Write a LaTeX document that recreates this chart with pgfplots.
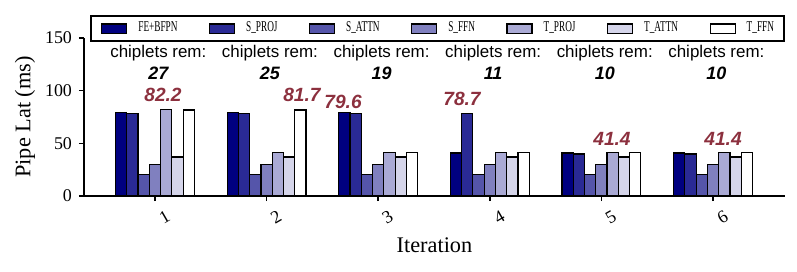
\documentclass[border=0pt]{standalone}
\usepackage{fontspec}
\setmainfont{Liberation Serif}
\newfontfamily\hv{Liberation Sans}
\usepackage{graphicx}
\usepackage{pgfplots}
\pgfplotsset{compat=1.18}
\usetikzlibrary{calc}
\definecolor{c1}{RGB}{0,0,128}
\definecolor{c2}{RGB}{42,42,149}
\definecolor{c3}{RGB}{85,85,170}
\definecolor{c4}{RGB}{128,128,191}
\definecolor{c5}{RGB}{170,170,213}
\definecolor{c6}{RGB}{213,213,234}
\definecolor{c7}{RGB}{255,255,255}
\definecolor{redlab}{RGB}{140,48,62}
\newcommand{\lgt}[1]{\scalebox{0.62}[1]{#1}}
\begin{document}
\begin{tikzpicture}
\begin{axis}[
  scale only axis,
  width=350.5bp, height=79bp,
  xmin=0.364, xmax=6.645,
  ymin=0, ymax=150,
  axis x line*=bottom, axis y line*=left,
  axis line style={-, line width=0.75pt},
  tick align=outside,
  major tick length=2.5bp,
  tick style={line width=0.75pt, black},
  xtick={1,2,3,4,5,6},
  ytick={0,50,100,150},
  /pgf/number format/assume math mode=true,
  ticklabel style={font=\fontsize{9}{10}\selectfont},
  xticklabel style={rotate=30, anchor=center, yshift=-9.5bp},
  ylabel={Pipe Lat (ms)},
  xlabel={Iteration},
  label style={font=\fontsize{11.2}{13}\selectfont},
  ylabel style={at={(axis description cs:-0.0842,0.5)}, anchor=center},
  xlabel style={at={(axis description cs:0.5,-0.313)}, anchor=center},
  ybar=0pt, bar width=0.101,
  clip=false,
  legend columns=7,
  legend image code/.code={\draw[#1, line width=0.6pt] (0bp,-2.3bp) rectangle (12.5bp,2.3bp);},
  legend style={at={(rel axis cs:1,0.975)}, anchor=south east,
    font=\fontsize{7.5}{8}\selectfont, draw=black, line width=1pt,
    inner xsep=5bp, inner ysep=3bp,
    nodes={inner sep=0pt},
    /tikz/every odd column/.append style={column sep=5.5bp},
    /tikz/every even column/.append style={column sep=15.7bp}},
]
\addplot[fill=c1, draw=black, line width=0.6pt] coordinates {(1,79.6) (2,79.6) (3,79.6) (4,40.8) (5,40.8) (6,40.8)};
\addlegendentry{\lgt{FE+BFPN}}
\addplot[fill=c2, draw=black, line width=0.6pt] coordinates {(1,78.7) (2,78.7) (3,78.7) (4,78.7) (5,39.9) (6,39.9)};
\addlegendentry{\lgt{S\_PROJ}}
\addplot[fill=c3, draw=black, line width=0.6pt] coordinates {(1,20.5) (2,20.5) (3,20.5) (4,20.5) (5,20.5) (6,20.5)};
\addlegendentry{\lgt{S\_ATTN}}
\addplot[fill=c4, draw=black, line width=0.6pt] coordinates {(1,30) (2,30) (3,30) (4,30) (5,30) (6,30)};
\addlegendentry{\lgt{S\_FFN}}
\addplot[fill=c5, draw=black, line width=0.6pt] coordinates {(1,82.2) (2,41.4) (3,41.4) (4,41.4) (5,41.4) (6,41.4)};
\addlegendentry{\lgt{T\_PROJ}}
\addplot[fill=c6, draw=black, line width=0.6pt] coordinates {(1,37) (2,37) (3,37) (4,37) (5,37) (6,37)};
\addlegendentry{\lgt{T\_ATTN}}
\addplot[fill=c7, draw=black, line width=0.6pt] coordinates {(1,81.7) (2,81.7) (3,41.0) (4,41.0) (5,41.0) (6,41.0)};
\addlegendentry{\lgt{T\_FFN}}
\foreach \k/\n in {1/27,2/25,3/19,4/11,5/10,6/10}{
  \edef\temp{\noexpand\node[font=\noexpand\hv\noexpand\fontsize{8.5}{10}\noexpand\selectfont] at (axis cs:\k+0.03,135.5) {chiplets rem:};
  \noexpand\node[font=\noexpand\hv\noexpand\fontsize{9}{10}\noexpand\selectfont\noexpand\bfseries\noexpand\itshape] at (axis cs:\k+0.03,116.5) {\n};}
  \temp
}
\node[font=\hv\fontsize{9.6}{11}\selectfont\bfseries\itshape, text=redlab] at (axis cs:1.072,95.5) {82.2};
\node[font=\hv\fontsize{9.6}{11}\selectfont\bfseries\itshape, text=redlab] at (axis cs:2.317,95.5) {81.7};
\node[font=\hv\fontsize{9.6}{11}\selectfont\bfseries\itshape, text=redlab] at (axis cs:2.685,89.5) {79.6};
\node[font=\hv\fontsize{9.6}{11}\selectfont\bfseries\itshape, text=redlab] at (axis cs:3.751,92.3) {78.7};
\node[font=\hv\fontsize{9.6}{11}\selectfont\bfseries\itshape, text=redlab] at (axis cs:5.095,54.5) {41.4};
\node[font=\hv\fontsize{9.6}{11}\selectfont\bfseries\itshape, text=redlab] at (axis cs:6.09,54.5) {41.4};
\coordinate (A) at (rel axis cs:0,0);
\coordinate (B) at (rel axis cs:1,1);
\end{axis}
\pgfresetboundingbox
\path[use as bounding box] ($(A)+(-42bp,-38bp)$) rectangle ($(B)+(6bp,19bp)$);
\end{tikzpicture}
\end{document}
